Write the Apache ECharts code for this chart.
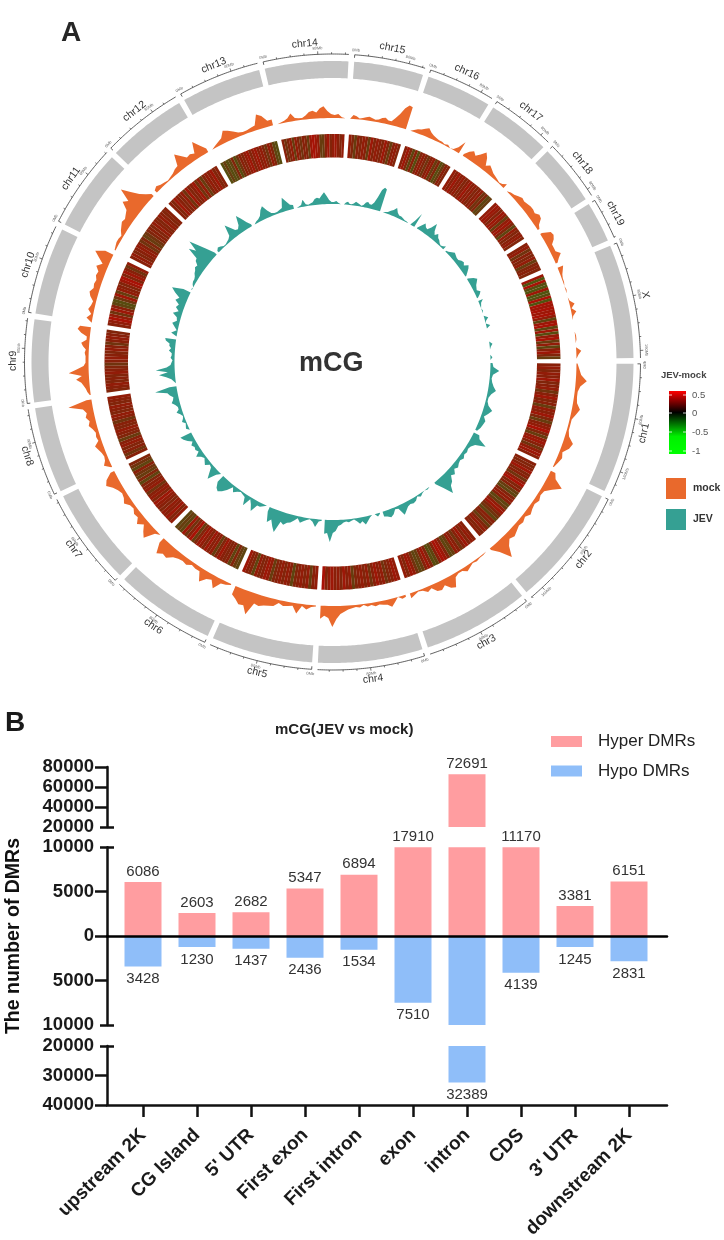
<!DOCTYPE html>
<html>
<head>
<meta charset="utf-8">
<style>html,body{margin:0;padding:0;background:#fff}#c{width:724px;height:1240px}</style>
<script src="https://cdn.jsdelivr.net/npm/echarts@6/dist/echarts.min.js"></script>
</head>
<body>
<div id="c"></div>
<script>
// ---------- Panel A data ----------
var chromNames = ['chr1','chr2','chr3','chr4','chr5','chr6','chr7','chr8','chr9','chr10','chr11','chr12','chr13','chr14','chr15','chr16','chr17','chr18','chr19','X'];
var chromLengths = [195,182,160,157,152,150,145,129,124,131,122,120,120,125,104,98,95,91,61,171];

var mockDensity = [
 [1,3,5,11,5,3,3,4,8,5,2,2,2,4,10,8,3,5,3,1],
 [5,8,18,10,4,3,5,3,4,6,3,5,4,6,8,6,11,21,9,2],
 [0,1,1,2,1,3,5,2,2,4,13,11,6,9,8,3,5,2,1,3,5],
 [2,3,0,4,8,5,4,3,4,2,3,1,3,2,3,4,6,8,13,21,12,10,13],
 [1,2,5,2,10,3,4,5,3,7,8,9,11,10,23,15,16,12,9],
 [1,3,4,12,5,7,13,4,4,3,6,5,6,8,13,12,16,6],
 [0,3,14,10,5,10,5,6,3,4,8,5,4,6,9,14,11,4],
 [1,7,4,3,4,6,8,3,4,3,5,8,6,9,7,10,24,5],
 [1,3,4,6,8,13,7,20,12,5,3,3,3,4,3,6,8,3,3,9,13,11],
 [0,6,2,6,4,3,7,9,6,7,6,8,7,11,6,12,18,9],
 [1,2,3,3,2,5,7,9,8,10,12,20,16,29,20,12,7,3],
 [3,5,3,2,1,2,3,5,6,17,12,7,8,6,17,10,4],
 [0,2,4,6,12,10,7,4,3,3,4,5,15,12,6,6],
 [0,1,2,4,8,3,2,2,4,7,8,6,10,12,7,4,3,4,1,0],
 [0,4,3,1,2,3,4,3,2,3,5,6,4,4,8,13,20,24,23],
 [0,2,4,5,7,9,6,4,3,2,2,1,2,0,1,5,13],
 [2,7,10,7,11,16,12,5,8,6,4,3,2,1,2,5],
 [0,2,3,5,7,6,7,8,8,7,10,9,4,2],
 [2,10,11,9,5,5,5,9,5,2],
 [6,4,2,1,1,0,1,0,0,1,5,1,5,1,0,0,0,0,1,1,0,0,5,2,0]
];
var jevDensity = [
 [2,3,9,3,2,3,5,8,4,2,2,4,9,6,3,6,5,4,2],
 [6,8,17,7,4,3,4,3,5,3,4,6,4,8,6,11,13,20,10,2],
 [0,0,1,0,1,3,1,4,5,4,5,8,11,3,2,6,8,6,5],
 [1,3,0,0,2,5,8,4,6,3,1,2,3,2,3,5,6,11,13,22,13,14],
 [1,2,8,3,1,2,4,6,2,5,8,9,12,10,22,17,11,15,5],
 [0,2,4,4,12,6,2,11,3,2,1,3,6,2,8,12,15,13,8],
 [0,4,13,8,3,2,6,4,2,4,8,3,5,4,6,3,7,10,12],
 [0,3,2,1,4,2,1,3,6,3,3,5,8,6,5,8,10,22,7],
 [0,2,4,9,16,7,19,8,4,3,2,4,3,3,6,4,6,6,10,11],
 [0,6,1,4,7,3,4,9,4,8,6,11,8,14,19,8],
 [1,0,2,3,3,4,6,7,9,8,12,13,25,18,29,20,11,3],
 [2,4,3,1,1,2,3,5,16,11,6,5,8,17,12,6,2],
 [0,2,3,5,10,13,7,3,2,2,3,4,14,9,5,4],
 [0,1,2,7,2,1,2,3,6,7,6,9,12,8,4,2,2,3,1,0],
 [0,2,3,1,1,2,4,3,2,1,2,5,6,4,4,7,13,21,24,23],
 [0,1,2,4,6,9,5,3,3,2,1,1,0,0,6,15],
 [1,5,9,6,5,9,15,8,5,8,5,4,2,1,2,4],
 [1,2,4,6,5,4,4,6,7,5,9,7,4,1],
 [1,6,9,7,5,4,3,6,4,1],
 [5,2,1,0,1,0,0,4,1,0,4,0,0,0,0,0,0,3,1,0,0,0,2,0]
];
// JEV minus mock methylation difference, stripe by stripe along each chromosome
var heatDiff = [
 [.2,.3,.1,.3,.2,.4,.1,.2,.3,-.1,.2,.4,.1,.2,-.2,.3,.2,.4,.1,-.2,.2,.3,.5,.1,-.2,.3,.4,.2,-.1,.3,.4,.2],
 [.2,.1,.2,.4,.1,.2,-.1,.3,.5,.1,.2,-.2,-.3,.1,.3,.2,-.3,-.2,.3,.4,.1,-.1,-.3,.2,.1,-.2,.1,.3,.1,.2],
 [.2,.3,.1,.4,.2,-.1,.2,.3,-.2,-.3,.1,.4,.5,.2,-.3,-.4,.1,.4,.2,-.2,-.3,-.1,.3,.4,.1,.3],
 [.3,.4,.2,.1,-.1,.3,.2,.4,.2,-.1,.3,.1,.3,.2,.1,-.2,.3,.2,.4,.1,.3,.2,.4,.3,.1,.5],
 [.3,.2,-.2,.3,.1,.3,.2,.1,-.3,.2,.3,.1,.3,.2,.1,-.2,.3,.4,.2,.1,.3,-.3,.1,.2,.4],
 [-.3,-.2,.1,-.3,.2,.1,.2,.4,.1,-.2,.3,.2,.4,.1,.3,.4,.1,-.2,.5,.2,-.1,.4,-.3,-.2,-.3],
 [.3,.1,.4,.2,.3,.1,.2,.3,.4,.1,.3,.2,-.1,.3,.2,.1,-.3,.1,-.2,-.1,.2,-.3,-.1,.1],
 [.2,-.1,.2,.1,.3,.2,-.2,.1,.2,.3,.1,.2,-.1,.2,.3,.1,.2,.3,.1,.2,.3],
 [.1,.2,.3,.1,.2,.1,.3,.2,.1,-.1,.2,.3,.2,.1,.3,.2,-.1,.2,.3,.2,.1],
 [.2,.3,.5,.3,-.1,.4,.2,-.3,-.4,-.1,.4,-.2,.3,.2,.1,.4,.5,.1,.4,.2,-.1,.3],
 [.2,.3,.1,.2,.3,.2,-.1,.1,-.2,-.1,.1,.2,.1,.3,.2,.1,.3,.2,.1,.2],
 [.2,.1,.4,.2,.1,.3,-.1,.4,.1,.2,.4,-.1,.3,-.2,.1,.3,.2,.4,.1,.2],
 [-.4,-.2,-.4,-.3,.1,-.4,-.1,.2,.1,.3,.4,.1,.3,.4,.2,.3,.1,-.1,.3,.1,-.3,-.4],
 [.2,-.1,.1,.3,-.2,.3,.1,-.1,.2,.1,-.2,.4,.5,.4,.3,-.2,-.2,.2,.4,.1,.3,.4,.2,.1,.3],
 [.3,.1,-.2,.2,.1,.3,.2,-.2,.4,.1,.3,.2,.1,.4,.1,-.2,.2,.3,.1],
 [.2,.4,.1,-.3,.2,-.4,.1,.3,.1,-.1,.2,.3,-.2,.1,-.4,-.2,.2,.1],
 [.3,.2,.4,.2,.3,.1,.2,.4,.2,.3,.1,.2,.3,-.1,.1,-.3,-.2],
 [.3,.4,.3,.1,.4,.3,-.2,.3,.4,.1,-.3,.3,.1,.2,.3,.1],
 [.2,.3,-.1,.2,.1,.3,-.2,.1,.2,.1],
 [.4,-.5,.5,-.4,-.5,.4,-.5,-.4,.5,-.5,.5,.4,.5,.4,.5,.3,-.3,.4,.5,-.3,.4,-.4,.3,.5,-.2,.3,-.3,.2,.4,.1,-.2]
];
var majorTicks = [80, 160];
var heatLegendTicks = ['0.5','0','-0.5','-1'];

// ---------- Panel B data ----------
var regions = ['upstream 2K','CG Island',"5' UTR",'First exon','First intron','exon','intron','CDS',"3' UTR",'downstream 2K'];
var hyperDMRs = [6086,2603,2682,5347,6894,17910,72691,11170,3381,6151];
var hypoDMRs  = [3428,1230,1437,2436,1534,7510,32389,4139,1245,2831];

// ---------- layout ----------
var CX = 332.5, CY = 362;
var GAP = 8.5;
var FONT = '"Liberation Sans", Arial, sans-serif';
var chromStart = [];
(function(){ var p = GAP/2; chromLengths.forEach(function(l){ chromStart.push(p); p += l + GAP; }); })();
var TOTAL = chromLengths.reduce(function(a,b){return a+b;},0) + GAP*chromLengths.length;

var heatCells = [];
heatDiff.forEach(function(arr,c){
  var w = chromLengths[c]/arr.length;
  arr.forEach(function(v,i){ heatCells.push([chromStart[c]+i*w, chromStart[c]+(i+1)*w, v, i===arr.length-1?0:1]); });
});

// ---------- polar rings ----------
var polars = [[284,345],[244,279],[204.5,228],[158,190]].map(function(r){ return {center:[CX,CY], radius:r}; });
var angleAxes = polars.map(function(p,i){ return {polarIndex:i,type:'value',min:0,max:TOTAL,startAngle:0.2,clockwise:true,show:false}; });
var radiusAxes = [[284,345],[0,35],[0,1],[0,32]].map(function(e,i){ return {polarIndex:i,type:'value',min:e[0],max:e[1],show:false}; });

function tangentRot(p){
  var th = Math.atan2(p[1]-CY, p[0]-CX);
  var vis = Math.sin(th) < 0 ? th + Math.PI/2 : th - Math.PI/2;
  return -vis;
}
function ideogram(params, api){
  var c = params.dataIndex, s = chromStart[c], l = chromLengths[c];
  var outer = [], inner = [], arc = [], n = Math.ceil(l/3), i;
  for(i=0;i<=n;i++){
    var a = s + l*i/n;
    outer.push(api.coord([301,a]).slice(0,2));
    inner.unshift(api.coord([284,a]).slice(0,2));
    arc.push(api.coord([308,a]).slice(0,2));
  }
  var kids = [
    {type:'polygon',shape:{points:outer.concat(inner)},style:{fill:'#c4c4c4'}},
    {type:'polyline',shape:{points:arc},style:{stroke:'#3a3a3a',fill:null,lineWidth:0.8}}
  ];
  var capA = api.coord([305,s]), capB = api.coord([308,s]);
  kids.push({type:'line',shape:{x1:capA[0],y1:capA[1],x2:capB[0],y2:capB[1]},style:{stroke:'#3a3a3a',lineWidth:0.8}});
  for(var mb=20; mb<l; mb+=20){
    var major = majorTicks.indexOf(mb)>=0;
    var t0 = api.coord([308,s+mb]), t1 = api.coord([major?311:309.8,s+mb]);
    kids.push({type:'line',shape:{x1:t0[0],y1:t0[1],x2:t1[0],y2:t1[1]},style:{stroke:'#3a3a3a',lineWidth:0.7}});
    if(major){ var tp = api.coord([314,s+mb]);
      kids.push({type:'text',x:tp[0],y:tp[1],rotation:tangentRot(tp),style:{text:mb+'Mb',fill:'#666',font:'4px '+FONT,align:'center',verticalAlign:'middle'}}); }
  }
  var zp = api.coord([312.5,s+1.5]);
  kids.push({type:'text',x:zp[0],y:zp[1],rotation:tangentRot(zp),style:{text:'0Mb',fill:'#666',font:'4px '+FONT,align:'center',verticalAlign:'middle'}});
  var lp = api.coord([chromNames[c]==='X'?320:319.5,s+l/2+(chromNames[c]==='X'?-3:0)]);
  kids.push({type:'text',x:lp[0],y:lp[1],rotation:tangentRot(lp),style:{text:chromNames[c],fill:'#333',font:'10.5px '+FONT,align:'center',verticalAlign:'middle'}});
  return {type:'group',children:kids};
}
function heatStripe(params, api){
  var a0 = api.value(0), a1 = api.value(1) + 0.25*api.value(3);
  var pts = [[0,a0],[1,a0],[1,a1],[0,a1]].map(function(q){ return api.coord(q).slice(0,2); });
  return {type:'polygon',shape:{points:pts},style:{fill:api.visual('color')}};
}
function densityArea(profile, color){
  return function(params, api){
    var c = params.dataIndex, arr = profile[c], top = [], base = [];
    arr.forEach(function(v,i){
      var a = chromStart[c] + chromLengths[c]*i/(arr.length-1);
      top.push(api.coord([v,a]).slice(0,2));
      base.unshift(api.coord([0,a]).slice(0,2));
    });
    return {type:'polygon',shape:{points:top.concat(base)},style:{fill:color}};
  };
}

// ---------- Panel B segmented axes ----------
var AXIS_COLOR = '#111', AXIS_W = 2.5;
var segments = [
  {top:767,height:60,min:20000,max:80000,inverse:false,ticks:[40000,60000,80000],labels:[20000,40000,60000,80000],caps:[20000]},
  {top:847.3,height:88.7,min:0,max:10000,inverse:false,ticks:[0,5000],labels:[0,5000,10000],caps:[10000]},
  {top:936,height:89,min:0,max:10000,inverse:true,ticks:[5000],labels:[5000,10000],caps:[10000]},
  {top:1046,height:59,min:20000,max:40000,inverse:true,ticks:[30000,40000],labels:[20000,30000,40000],caps:[20000]}
];
var grids = [], xAxes = [], yAxes = [], barSeries = [];
segments.forEach(function(seg,i){
  grids.push({left:116,width:540,top:seg.top,height:seg.height,containLabel:false,outerBoundsMode:'none'});
  xAxes.push({gridIndex:i,type:'category',data:regions,position:'bottom',show:i===3,
    axisLine:{show:false,onZero:false},
    axisTick:{show:true,alignWithLabel:true,length:12,lineStyle:{color:AXIS_COLOR,width:AXIS_W}},
    axisLabel:{interval:0,rotate:45,margin:27,fontFamily:FONT,fontWeight:'bold',fontSize:19,color:'#1a1a1a'}});
  var base = {gridIndex:i,type:'value',position:'left',offset:9,min:seg.min,max:seg.max,inverse:seg.inverse,splitLine:{show:false}};
  yAxes.push(Object.assign({},base,{
    axisLine:{show:true,onZero:false,lineStyle:{color:AXIS_COLOR,width:AXIS_W}},
    axisTick:{show:true,length:12,customValues:seg.ticks,lineStyle:{color:AXIS_COLOR,width:AXIS_W}},
    axisLabel:{show:true,customValues:seg.labels,margin:13,formatter:function(v){return String(v);},fontFamily:FONT,fontWeight:'bold',fontSize:18.5,color:'#1a1a1a',hideOverlap:false}}));
  yAxes.push(Object.assign({},base,{axisLine:{show:false,onZero:false},axisLabel:{show:false},
    axisTick:{show:true,length:7,customValues:seg.caps,lineStyle:{color:AXIS_COLOR,width:AXIS_W}}}));
  yAxes.push(Object.assign({},base,{axisLine:{show:false,onZero:false},axisLabel:{show:false},
    axisTick:{show:true,inside:true,length:7,customValues:seg.caps,lineStyle:{color:AXIS_COLOR,width:AXIS_W}}}));
});
var SEG_LIMIT = 20000;
function barSer(name,color,segIdx,vals,pos,keep){
  return {type:'bar',name:name,xAxisIndex:segIdx,yAxisIndex:segIdx*3,barWidth:37,clip:true,
    itemStyle:{color:color},
    data:vals,
    label:{show:true,position:pos,distance:pos==='top'?3:5,fontFamily:FONT,fontSize:15,color:'#333',
      formatter:function(p){ return keep(p.value)?String(p.value):''; }}};
}
var PINK='#ff9da0', BLUE='#8fbef9';
barSeries.push(barSer('Hyper DMRs',PINK,0,hyperDMRs.map(function(v){return v>=SEG_LIMIT?v:'-';}),'top',function(v){return v>=SEG_LIMIT;}));
barSeries.push(barSer('Hyper DMRs',PINK,1,hyperDMRs,'top',function(v){return v<SEG_LIMIT;}));
barSeries.push(barSer('Hypo DMRs',BLUE,2,hypoDMRs,'bottom',function(v){return v<SEG_LIMIT;}));
barSeries.push(barSer('Hypo DMRs',BLUE,3,hypoDMRs.map(function(v){return v>=SEG_LIMIT?v:'-';}),'bottom',function(v){return v>=SEG_LIMIT;}));

// frame grid: zero line, baseline extension and the y-axis name
var FR = grids.length;
grids.push({left:107,width:560,top:767,height:338,outerBoundsMode:'none'});
xAxes.push({gridIndex:FR,type:'value',min:0,max:1,position:'bottom',z:10,axisLine:{show:true,onZero:true,lineStyle:{color:'#000',width:AXIS_W}},axisTick:{show:false},axisLabel:{show:false},splitLine:{show:false}});
xAxes.push({gridIndex:FR,type:'value',min:0,max:1,position:'bottom',z:10,axisLine:{show:true,onZero:false,lineStyle:{color:AXIS_COLOR,width:AXIS_W}},axisTick:{show:false},axisLabel:{show:false},splitLine:{show:false}});
yAxes.push({gridIndex:FR,type:'value',min:-1,max:1,position:'left',axisLine:{show:false,onZero:false},axisTick:{show:false},axisLabel:{show:false},splitLine:{show:false},
  name:'The number of DMRs',nameLocation:'middle',nameGap:83,nameTextStyle:{fontFamily:FONT,fontWeight:'bold',fontSize:19.5,color:'#111'}});

// ---------- legend gradient ----------
var lg = {x:669,y:391,w:17,h:63};
var legendY = [395,413,432,451];
var graphicEls = [{type:'rect',shape:{x:lg.x,y:lg.y,width:lg.w,height:lg.h},style:{fill:new echarts.graphic.LinearGradient(0,0,0,1,[
  {offset:0,color:'#ff0000'},{offset:0.34,color:'#000000'},{offset:0.72,color:'#00f000'},{offset:1,color:'#00ff00'}])}}];
heatLegendTicks.forEach(function(t,i){
  graphicEls.push({type:'rect',shape:{x:lg.x,y:legendY[i]-0.4,width:3,height:0.8},style:{fill:'#fff'}});
  graphicEls.push({type:'rect',shape:{x:lg.x+lg.w-3,y:legendY[i]-0.4,width:3,height:0.8},style:{fill:'#fff'}});
  graphicEls.push({type:'text',x:692,y:legendY[i],style:{text:t,fill:'#555',font:'9.5px '+FONT,verticalAlign:'middle'}});
});

var MOCK='#e9692c', JEV='#35a093';
var chromItems = chromNames.map(function(n,i){return [chromLengths[i]];});
var chart = echarts.init(document.getElementById('c'),null,{renderer:'canvas'});
chart.setOption({
  animation:false,
  backgroundColor:'#fff',
  title:[
    {text:'A',left:61,top:19,textStyle:{fontFamily:FONT,fontWeight:'bold',fontSize:28,color:'#262626'},padding:0},
    {text:'B',left:5,top:709,textStyle:{fontFamily:FONT,fontWeight:'bold',fontSize:28,color:'#1a1a1a'},padding:0},
    {text:'mCG',left:299,top:350,textStyle:{fontFamily:FONT,fontWeight:'bold',fontSize:27,color:'#333'},padding:0},
    {text:'mCG(JEV vs mock)',left:275,top:722,textStyle:{fontFamily:FONT,fontWeight:'bold',fontSize:15,color:'#222'},padding:0},
    {text:'JEV-mock',left:661,top:370,textStyle:{fontFamily:FONT,fontWeight:'bold',fontSize:9.5,color:'#444'},padding:0}
  ],
  legend:[
    {data:['Hyper DMRs','Hypo DMRs'],orient:'vertical',left:551,top:733,padding:0,icon:'rect',itemWidth:31,itemHeight:11,itemGap:12.5,selectedMode:false,
      textStyle:{fontFamily:FONT,fontSize:17,color:'#222',padding:[0,0,0,11]}},
    {data:['mock','JEV'],orient:'vertical',left:666,top:478,padding:0,icon:'rect',itemWidth:20,itemHeight:21,itemGap:10,selectedMode:false,
      textStyle:{fontFamily:FONT,fontWeight:'bold',fontSize:10.5,color:'#333',padding:[0,0,0,2]}}
  ],
  polar:polars, angleAxis:angleAxes, radiusAxis:radiusAxes,
  grid:grids, xAxis:xAxes, yAxis:yAxes,
  visualMap:[{show:false,type:'continuous',seriesIndex:1,dimension:2,min:-0.5,max:0.5,
    inRange:{color:['#50540f','#62400f','#7a2a0c','#8c1e08','#a81206']}}],
  graphic:{elements:graphicEls},
  series:[
    {type:'custom',name:'ideogram',coordinateSystem:'polar',polarIndex:0,data:chromItems,renderItem:ideogram,encode:{radius:[],angle:[]},silent:true,clip:false},
    {type:'custom',name:'JEV-mock',coordinateSystem:'polar',polarIndex:2,data:heatCells,renderItem:heatStripe,encode:{radius:[],angle:[]},silent:true,clip:false},
    {type:'custom',name:'mock',coordinateSystem:'polar',polarIndex:1,data:chromItems,renderItem:densityArea(mockDensity,MOCK),itemStyle:{color:MOCK},encode:{radius:[],angle:[]},silent:true,clip:false},
    {type:'custom',name:'JEV',coordinateSystem:'polar',polarIndex:3,data:chromItems,renderItem:densityArea(jevDensity,JEV),itemStyle:{color:JEV},encode:{radius:[],angle:[]},silent:true,clip:false}
  ].concat(barSeries)
});
</script>
</body>
</html>
